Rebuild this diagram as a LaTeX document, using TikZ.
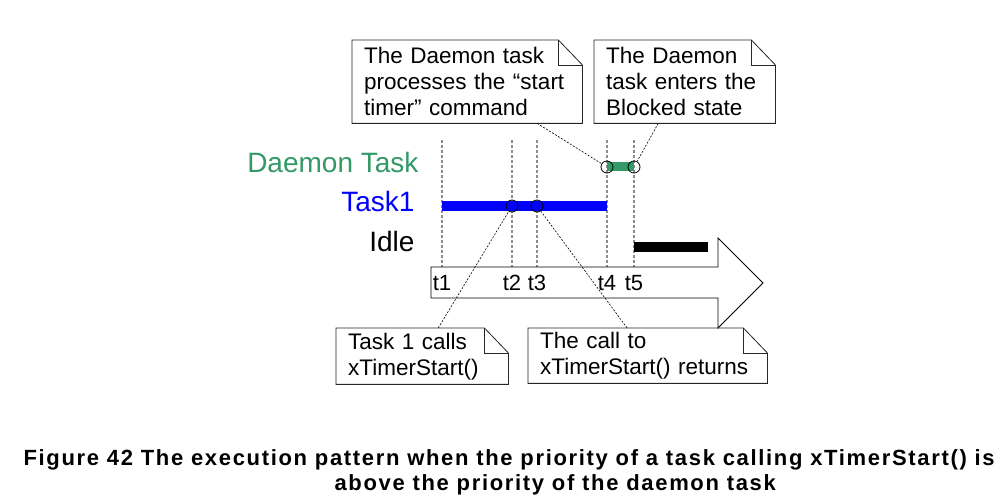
\documentclass[tikz,border=0pt]{standalone}
\usepackage{fontspec}
\setmainfont{Liberation Sans}
\usetikzlibrary{calc}
\definecolor{daemongreen}{RGB}{51,153,102}

% note with a folded corner round a node
\newcommand{\notefold}[1]{%
  \draw[notebox] (#1.north west) -- ([xshift=-24pt]#1.north east)
    -- ([yshift=-25pt]#1.north east) -- (#1.south east)
    -- (#1.south west) -- cycle;
  \draw[notebox] ([xshift=-24pt]#1.north east)
    |- ([yshift=-25pt]#1.north east);
}

\begin{document}
\begin{tikzpicture}[x=1pt,y=-1pt,
  notebox/.style={draw=black!85,line width=0.8pt},
  note/.style={anchor=north west,inner xsep=12pt,inner ysep=0pt,align=left,
    font=\fontsize{22.5pt}{26pt}\selectfont},
  timeline/.style={draw=black!45,line width=1.5pt,dash pattern=on 3pt off 2pt},
  pointer/.style={line width=0.6pt,dash pattern=on 2pt off 1.5pt},
  evt/.style={circle,draw,line width=0.8pt,minimum size=12pt,inner sep=0pt},
  tasklbl/.style={anchor=base east,font=\fontsize{28pt}{32pt}\selectfont}]
    \useasboundingbox (0,0) rectangle (1005,502);

    % time lines and marks
    \foreach \x/\n in {442/1,512/2,537/3,607/4,634/5}
        \draw[timeline] (\x,140) -- (\x,267);

    % time arrow
    \draw[line width=0.9pt] (431,267) -- (718,267) -- (718,238)
        -- (763,283) -- (718,328) -- (718,298) -- (431,298) -- cycle;
    \foreach \x/\n in {442/1,512/2,537/3,607/4,634/5}
        \node[anchor=base,font=\fontsize{22pt}{26pt}\selectfont] (t\n) at (\x,291) {t\n};

    % task names
    \node[tasklbl,text=daemongreen] (lbldaemon) at (422,173) {Daemon Task};
    \node[tasklbl,text=blue] (lbltask) at (418,212) {Task1};
    \node[tasklbl] (lblidle) at (418,252) {Idle};

    % running bars
    \draw[daemongreen,line width=9pt] (607,167) -- (634,167);
    \draw[blue,line width=10pt] (442,206) -- (607,206);
    \draw[black,line width=10pt] (634,247) -- (708,247);

    % events
    \node[evt] (e2) at (512,206) {};
    \node[evt] (e3) at (537,206) {};
    \node[evt] (e4) at (607,167) {};
    \node[evt] (e5) at (634,167) {};

    % notes
    \node[note,text width=206pt,minimum height=83pt] (daemonrun) at (352,40)
        {The Daemon task\\processes the “start\\timer” command};
    \notefold{daemonrun}
    \node[note,text width=157pt,minimum height=83pt] (daemonblock) at (594,40)
        {The Daemon\\task enters the\\Blocked state};
    \notefold{daemonblock}
    \node[note,text width=148pt,minimum height=56pt] (callstart) at (336,328)
        {Task 1 calls\\xTimerStart()};
    \notefold{callstart}
    \node[note,text width=215pt,minimum height=55pt] (callret) at (528,328)
        {The call to\\xTimerStart() returns};
    \notefold{callret}

    % pointers
    \draw[pointer] ($(daemonrun.south west)!0.804!(daemonrun.south east)$) -- (e4);
    \draw[pointer] ($(daemonblock.south west)!0.354!(daemonblock.south east)$) -- (e5);
    \draw[pointer] ($(callstart.north west)!0.593!(callstart.north east)$) -- (e2);
    \draw[pointer] ($(callret.north west)!0.414!(callret.north east)$) -- (e3);

    % caption
    \node[anchor=base west,font=\fontsize{22pt}{26pt}\bfseries\addfontfeature{LetterSpace=7.6}]
        (caption1) at (20,466)
        {Figure 42 The execution pattern when the priority of a task calling xTimerStart() is};
    \node[anchor=base west,font=\fontsize{22pt}{26pt}\bfseries\addfontfeature{LetterSpace=7.6}]
        (caption2) at (331,491) {above the priority of the daemon task};
\end{tikzpicture}
\end{document}
